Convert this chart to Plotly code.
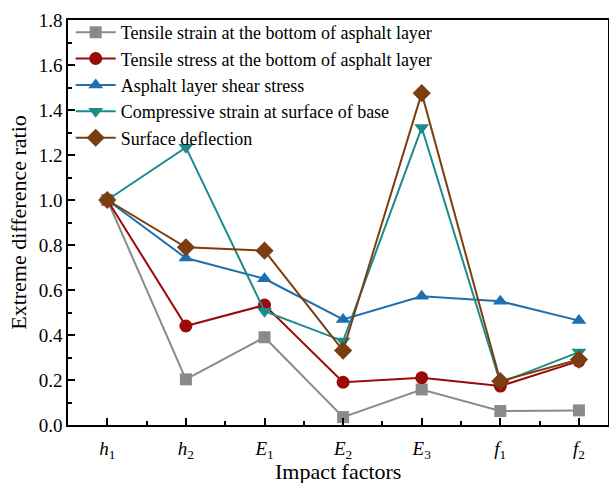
import plotly.graph_objects as go

categories = ["<i>h</i><sub>1</sub>", "<i>h</i><sub>2</sub>", "<i>E</i><sub>1</sub>",
              "<i>E</i><sub>2</sub>", "<i>E</i><sub>3</sub>", "<i>f</i><sub>1</sub>", "<i>f</i><sub>2</sub>"]

tensile_strain = [1.0, 0.203, 0.39, 0.035, 0.158, 0.062, 0.065]
tensile_stress = [1.0, 0.44, 0.533, 0.19, 0.21, 0.173, 0.284]
shear_stress = [1.0, 0.742, 0.65, 0.469, 0.572, 0.55, 0.464]
compressive_strain = [1.0, 1.234, 0.506, 0.373, 1.322, 0.188, 0.324]
surface_deflection = [1.0, 0.79, 0.775, 0.331, 1.475, 0.195, 0.291]

names = ["Tensile strain at the bottom of asphalt layer",
         "Tensile stress at the bottom of asphalt layer",
         "Asphalt layer shear stress",
         "Compressive strain at surface of base",
         "Surface deflection"]

x_title = "Impact factors"
y_title = "Extreme difference ratio"

series = [tensile_strain, tensile_stress, shear_stress, compressive_strain, surface_deflection]
colors = ["#8a8a8a", "#9a0a0a", "#1f6fae", "#1a8c8c", "#7a3e10"]
symbols = ["square", "circle", "triangle-up", "triangle-down", "diamond"]
sizes = [12, 13, 13, 13, 14]

xs = list(range(len(categories)))
fig = go.Figure()
for ys, nm, c, s, sz in zip(series, names, colors, symbols, sizes):
    fig.add_trace(go.Scatter(x=xs, y=ys, name=nm, mode="lines+markers",
                             line=dict(color=c, width=2),
                             marker=dict(symbol=s, size=sz, color=c)))

font_family = "Liberation Serif"
fig.update_layout(
    width=609, height=483,
    margin=dict(l=68, r=1, t=20, b=58),
    paper_bgcolor="white", plot_bgcolor="white",
    font=dict(family=font_family, color="black"),
    showlegend=True,
    legend=dict(x=0.005, y=1.015, xanchor="left", yanchor="top",
                bgcolor="rgba(0,0,0,0)", font=dict(size=18, family=font_family),
                tracegroupgap=0, itemwidth=40),
    xaxis=dict(range=[-0.5, 6.37], tickmode="array", tickvals=xs, ticktext=categories,
               showline=True, linecolor="black", linewidth=1.5, mirror=True,
               ticks="inside", ticklen=7, tickcolor="black", tickwidth=1.5,
               showgrid=False, zeroline=False, ticklabelstandoff=5, automargin=False,
               tickfont=dict(size=19, family=font_family),
               minor=dict(ticks="inside", ticklen=4, tick0=0.5, dtick=1, tickcolor="black", tickwidth=1.5)),
    yaxis=dict(range=[0, 1.8], dtick=0.2, tickformat=".1f",
               showline=True, linecolor="black", linewidth=1.5, mirror=True,
               ticks="inside", ticklen=7, tickcolor="black", tickwidth=1.5,
               showgrid=False, zeroline=False, automargin=False,
               tickfont=dict(size=19, family=font_family),
               minor=dict(ticks="inside", ticklen=4, dtick=0.1, tickcolor="black", tickwidth=1.5),
               title=dict(text=y_title, font=dict(size=22, family=font_family), standoff=6)),
    annotations=[dict(text=x_title, xref="paper", yref="paper", x=0.5, y=-0.143,
                      xanchor="center", yanchor="bottom", showarrow=False, yshift=-3,
                      font=dict(size=22, family=font_family))],
)

fig.write_html("out.html")
